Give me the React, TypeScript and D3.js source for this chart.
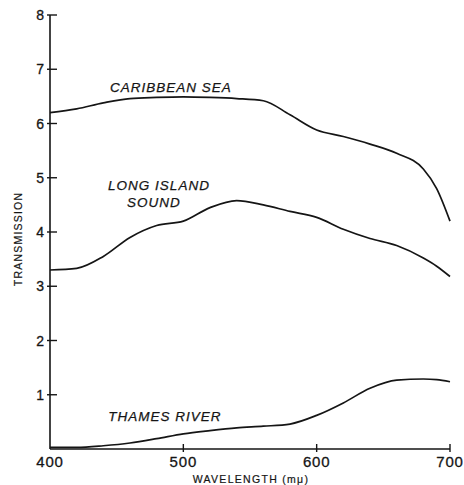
import { useEffect, useRef } from 'react';
import * as d3 from 'd3';

const wavelengths = [400, 420, 440, 460, 480, 500, 520, 540, 560, 580, 600, 620, 640, 660, 680, 690, 700];
const caribbean = [6.2, 6.27, 6.38, 6.46, 6.48, 6.49, 6.48, 6.46, 6.42, 6.16, 5.88, 5.76, 5.62, 5.45, 5.16, 4.8, 4.2];
const longIsland = [3.3, 3.33, 3.55, 3.9, 4.12, 4.2, 4.45, 4.58, 4.5, 4.38, 4.27, 4.05, 3.88, 3.75, 3.52, 3.37, 3.18];
const thames = [0.03, 0.03, 0.06, 0.11, 0.19, 0.28, 0.34, 0.39, 0.42, 0.46, 0.62, 0.85, 1.12, 1.27, 1.29, 1.28, 1.24];

const xTicks = [400, 500, 600, 700];
const yTicks = [1, 2, 3, 4, 5, 6, 7, 8];

const font = '"Liberation Sans", Arial, sans-serif';

function App() {
  const ref = useRef<SVGSVGElement>(null);
  const width = 464;
  const height = 485;

  useEffect(() => {
    const svg = d3.select(ref.current);
    svg.selectAll('*').remove();

    const x = d3.scaleLinear().domain([400, 700]).range([50, 450]);
    const y = d3.scaleLinear().domain([0, 8]).range([449, 15]);
    const ink = '#151515';

    // axes
    svg.append('line')
      .attr('x1', x(400)).attr('x2', x(700))
      .attr('y1', y(0)).attr('y2', y(0))
      .attr('stroke', ink).attr('stroke-width', 1.6);
    svg.append('line')
      .attr('x1', x(400)).attr('x2', x(400))
      .attr('y1', y(0)).attr('y2', y(8))
      .attr('stroke', ink).attr('stroke-width', 1.6);

    svg.append('g')
      .selectAll('line')
      .data(yTicks)
      .enter()
      .append('line')
      .attr('x1', x(400) - 3)
      .attr('x2', x(400) + 7)
      .attr('y1', (d) => y(d))
      .attr('y2', (d) => y(d))
      .attr('stroke', ink)
      .attr('stroke-width', 1.4);

    svg.append('g')
      .selectAll('text')
      .data(yTicks)
      .enter()
      .append('text')
      .attr('x', x(400) - 6)
      .attr('y', (d) => y(d) + 5)
      .attr('text-anchor', 'end')
      .attr('font-family', font)
      .attr('font-size', 14)
      .attr('fill', ink)
      .attr('stroke', ink)
      .attr('stroke-width', 0.3)
      .text((d) => d);

    svg.append('g')
      .selectAll('line')
      .data(xTicks.slice(1))
      .enter()
      .append('line')
      .attr('x1', (d) => x(d))
      .attr('x2', (d) => x(d))
      .attr('y1', y(0) - 5)
      .attr('y2', y(0) + 3)
      .attr('stroke', ink)
      .attr('stroke-width', 1.4);

    svg.append('g')
      .selectAll('text')
      .data(xTicks)
      .enter()
      .append('text')
      .attr('x', (d) => x(d))
      .attr('y', 467)
      .attr('text-anchor', 'middle')
      .attr('font-family', font)
      .attr('font-size', 15)
      .attr('letter-spacing', 0.8)
      .attr('fill', ink)
      .attr('stroke', ink)
      .attr('stroke-width', 0.3)
      .text((d) => d);

    svg.append('text')
      .attr('x', 251)
      .attr('y', 483)
      .attr('text-anchor', 'middle')
      .attr('font-family', font)
      .attr('font-size', 10.5)
      .attr('letter-spacing', 1.3)
      .attr('fill', ink)
      .attr('stroke', ink)
      .attr('stroke-width', 0.2)
      .text('WAVELENGTH (mμ)');

    svg.append('text')
      .attr('transform', 'translate(22, 239) rotate(-90)')
      .attr('text-anchor', 'middle')
      .attr('font-family', font)
      .attr('font-size', 10.5)
      .attr('letter-spacing', 1.2)
      .attr('fill', ink)
      .attr('stroke', ink)
      .attr('stroke-width', 0.2)
      .text('TRANSMISSION');

    // curves
    const line = d3.line<number>()
      .x((_, i) => x(wavelengths[i]))
      .y((d) => y(d))
      .curve(d3.curveMonotoneX);

    [caribbean, longIsland, thames].forEach((s) => {
      svg.append('path')
        .attr('d', line(s))
        .attr('fill', 'none')
        .attr('stroke', ink)
        .attr('stroke-width', 1.7);
    });

    // labels
    const labels = [
      { t: 'CARIBBEAN SEA', x: 171, y: 92 },
      { t: 'LONG ISLAND', x: 159, y: 190 },
      { t: 'SOUND', x: 154, y: 207 },
      { t: 'THAMES RIVER', x: 165, y: 421 },
    ];
    svg.append('g')
      .selectAll('text')
      .data(labels)
      .enter()
      .append('text')
      .attr('x', (d) => d.x)
      .attr('y', (d) => d.y)
      .attr('text-anchor', 'middle')
      .attr('font-family', font)
      .attr('font-size', 13.5)
      .attr('font-style', 'italic')
      .attr('letter-spacing', 1)
      .attr('fill', ink)
      .attr('stroke', ink)
      .attr('stroke-width', 0.25)
      .text((d) => d.t);
  }, []);

  return (
    <div style={{ position: 'absolute', left: 0, top: 0, background: '#fff' }}>
      <svg width={width} height={height} ref={ref} />
    </div>
  );
}

export default App;
